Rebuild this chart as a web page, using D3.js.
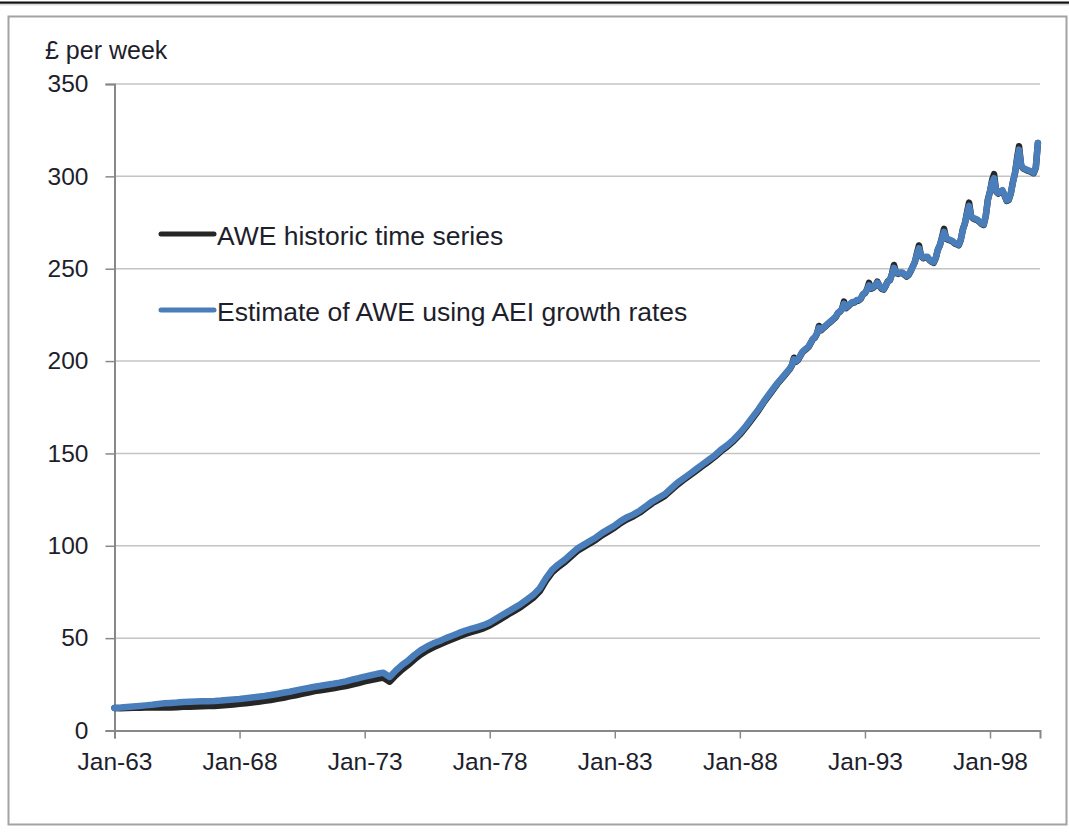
<!DOCTYPE html>
<html><head><meta charset="utf-8">
<script src="https://cdn.jsdelivr.net/npm/d3@7"></script>
<style>
body{margin:0;background:#fff;}
svg{display:block;}
text{font-family:"Liberation Sans",Arial,sans-serif;}
</style>
</head><body>
<svg id="chart" width="1069" height="832"></svg>
<script>
// ---- Data ----
const quarterYears = [1963,1964,1965,1966,1967,1968,1969,1970,1971,1972,1973,1974,1975,1976,1977,1978,1979,1980,1981,1982,1983,1984,1985,1986,1987,1988,1989];
// quarterly values (Jan, Apr, Jul, Oct), £ per week
const historicQuarterly = [
 [12.2,12.1,12.2,12.3],[12.3,12.4,12.5,12.6],[12.4,12.5,12.6,12.8],[12.9,13.0,13.1,13.2],
 [13.3,13.5,13.8,14.1],[14.5,14.8,15.2,15.6],[16.1,16.5,17.1,17.7],[18.5,19.1,19.8,20.5],
 [21.3,21.8,22.3,22.8],[23.5,24.1,24.9,25.7],[26.6,27.3,28.0,28.6],[26.4,29.9,33.0,35.6],
 [38.6,41.2,43.3,45.0],[46.5,48.0,49.4,50.8],[52.1,53.2,54.2,55.3],[56.8,58.8,60.8,62.9],
 [64.9,66.9,69.4,71.9],[75.4,81.0,85.6,88.6],[91.1,94.2,97.2,99.2],[101.2,103.3,105.8,107.8],
 [109.9,112.4,114.4,116.0],[118.0,120.5,123.0,125.0],[127.0,130.0,133.0,135.6],[138.1,140.6,143.1,145.6],
 [148.2,151.2,153.7,156.7],[160.2,164.3,168.8,173.4],[178.5,183.0,187.6,191.6]
];
const estimateQuarterly = [
 [12.2,12.4,12.7,13.0],[13.3,13.6,13.9,14.3],[14.7,14.9,15.1,15.4],[15.6,15.7,15.8,15.9],
 [16.0,16.2,16.5,16.8],[17.1,17.5,17.9,18.3],[18.7,19.2,19.8,20.4],[21.0,21.7,22.4,23.0],
 [23.7,24.2,24.8,25.3],[25.9,26.6,27.5,28.3],[29.2,29.9,30.7,31.3],[29.0,32.5,35.5,38.0],
 [41.0,43.5,45.5,47.2],[48.5,50.0,51.3,52.7],[54.0,55.0,56.0,57.0],[58.5,60.5,62.5,64.5],
 [66.5,68.5,71.0,73.5],[77.0,82.5,87.0,90.0],[92.5,95.5,98.5,100.5],[102.5,104.5,107.0,109.0],
 [111.0,113.5,115.5,117.0],[119.0,121.5,124.0,126.0],[128.0,131.0,134.0,136.5],[139.0,141.5,144.0,146.5],
 [149.0,152.0,154.5,157.5],[161.0,165.0,169.5,174.0],[179.0,183.5,188.0,192.0]
];
const monthYears = [1990,1991,1992,1993,1994,1995,1996,1997,1998,1999];
// monthly values Jan..Dec
const historicMonthly = [
 [195.7,197.8,201.8,199.7,200.7,202.7,204.7,205.7,206.7,207.7,209.7,211.8],
 [212.7,214.8,219.0,216.7,217.7,218.7,219.7,220.7,221.7,222.7,223.7,225.8],
 [226.7,228.2,232.2,228.7,229.7,230.7,231.7,231.7,232.7,232.7,233.7,236.0],
 [236.7,238.8,242.3,239.2,239.7,240.7,243.0,240.7,239.2,238.7,240.7,243.2],
 [243.7,247.5,252.0,247.7,247.2,247.7,247.7,246.7,245.7,246.7,248.7,251.3],
 [253.7,258.6,262.6,256.7,255.7,256.2,256.2,254.7,253.7,253.2,255.7,260.3],
 [262.7,267.2,271.6,266.2,265.7,265.2,264.7,263.7,263.2,262.7,265.7,271.4],
 [274.7,280.8,285.8,278.2,277.2,276.7,276.2,275.2,274.2,273.7,278.7,287.5],
 [291.7,298.0,301.2,291.7,290.7,291.7,292.2,289.7,286.7,287.2,290.7,297.0],
 [301.7,310.0,316.3,305.7,304.2,303.7,303.2,302.7,302.2,301.7,304.7,318.0]
];
const estimateMonthly = [
 [196,198,201,200,201,203,205,206,207,208,210,212],
 [213,215,218,217,218,219,220,221,222,223,224,226],
 [227,228,231,229,230,231,232,232,233,233,234,236],
 [237,238.5,241,239.5,240,241,242.5,241,239.5,239,241,243],
 [244,247,250.5,248,247.5,248,248,247,246,247,249,251],
 [254,258,261,257,256,256.5,256.5,255,254,253.5,256,260],
 [263,266.5,270,266.5,266,265.5,265,264,263.5,263,266,271],
 [275,280,284,278.5,277.5,277,276.5,275.5,274.5,274,279,287],
 [292,297,299,292,291,292,292.5,290,287,287.5,291,296.5],
 [302,309,314.5,306,304.5,304,303.5,303,302.5,302,305,318]
];
const yTicks = [0,50,100,150,200,250,300,350];
const xTickYears = [1963,1968,1973,1978,1983,1988,1993,1998];
const seriesNames = ["AWE historic time series","Estimate of AWE using AEI growth rates"];
const seriesColors = ["#262626","#4a7ebb"];
const yAxisTitle = "£ per week";

// ---- Build ----
function buildSeries(qVals, mVals){
  const pts = [];
  quarterYears.forEach((yr,i)=>qVals[i].forEach((v,q)=>pts.push({date:new Date(yr,q*3,1), value:v})));
  monthYears.forEach((yr,i)=>mVals[i].forEach((v,m)=>pts.push({date:new Date(yr,m,1), value:v})));
  return pts;
}
const series = [buildSeries(historicQuarterly, historicMonthly), buildSeries(estimateQuarterly, estimateMonthly)];

const svg = d3.select("#chart");
const W = 1069, H = 832;
const textColor = "#1e1e2c";
const fontFam = "'Liberation Sans',Arial,sans-serif";

// top rule
svg.append("rect").attr("x",0).attr("y",1.5).attr("width",W).attr("height",2.2).attr("fill","#111");
svg.append("line").attr("x1",0).attr("x2",W).attr("y1",4.8).attr("y2",4.8).attr("stroke","#c8c8c8").attr("stroke-width",1);
// outer frame
svg.append("rect").attr("x",8.5).attr("y",16.5).attr("width",1058).attr("height",808)
  .attr("fill","none").attr("stroke","#a3a3a3").attr("stroke-width",2);

const x = d3.scaleTime().domain([new Date(1963,0,1), new Date(2000,0,1)]).range([114.5, 1040]);
const y = d3.scaleLinear().domain([0,350]).range([730.5, 84]);

// gridlines
svg.append("g").selectAll("line").data(yTicks.filter(d=>d>0)).join("line")
  .attr("x1",114.5).attr("x2",1040).attr("y1",d=>y(d)).attr("y2",d=>y(d))
  .attr("stroke","#c4c4c4").attr("stroke-width",1.5);

// y axis
const yAxis = svg.append("g").attr("transform","translate(114.5,0)")
  .call(d3.axisLeft(y).tickValues(yTicks).tickSize(9).tickPadding(17).tickFormat(d3.format("d")));
yAxis.select(".domain").attr("stroke","#888").attr("stroke-width",2);
yAxis.selectAll(".tick line").attr("stroke","#888").attr("stroke-width",1.5);
yAxis.selectAll(".tick text").attr("fill",textColor).style("font-size","24.5px").style("font-family",fontFam);

// x axis
const xAxis = svg.append("g").attr("transform","translate(0,730.5)")
  .call(d3.axisBottom(x).tickValues(xTickYears.map(yr=>new Date(yr,0,1))).tickSize(8).tickPadding(14)
    .tickFormat(d3.timeFormat("%b-%y")));
xAxis.select(".domain").attr("stroke","#888").attr("stroke-width",2);
xAxis.selectAll(".tick line").attr("stroke","#888").attr("stroke-width",1.5);
xAxis.selectAll(".tick text").attr("fill",textColor).style("font-size","24.5px").style("font-family",fontFam);

// axis title
svg.append("text").attr("x",45).attr("y",59).attr("fill",textColor)
  .style("font-size","25px").text(yAxisTitle);

// lines
const line = d3.line().x(d=>x(d.date)).y(d=>y(d.value));
series.forEach((s,i)=>{
  svg.append("path").datum(s).attr("d",line).attr("fill","none")
    .attr("stroke",seriesColors[i]).attr("stroke-width",6.5)
    .attr("stroke-linejoin","round").attr("stroke-linecap","round");
});

// legend
const legendY = [234, 310];
seriesNames.forEach((name,i)=>{
  svg.append("line").attr("x1",161).attr("x2",214).attr("y1",legendY[i]).attr("y2",legendY[i])
    .attr("stroke",seriesColors[i]).attr("stroke-width",5).attr("stroke-linecap","round");
  svg.append("text").attr("x",217).attr("y",legendY[i]+10.5).attr("fill",textColor)
    .style("font-size","26.5px").text(name);
});
</script>
</body></html>
